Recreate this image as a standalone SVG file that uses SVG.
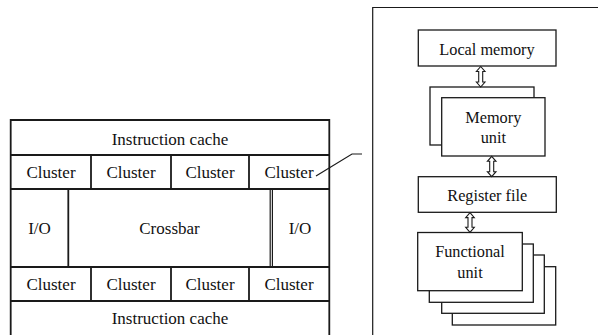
<svg xmlns="http://www.w3.org/2000/svg" width="598" height="335" viewBox="0 0 598 335">
  <style>
    .box { fill: #fff; stroke: #1a1a1a; stroke-width: 1.3; }
    .grid { fill: none; stroke: #1a1a1a; stroke-width: 1.8; }
    .line { fill: none; stroke: #1a1a1a; stroke-width: 1.2; }
    .arrow { fill: #fff; stroke: #1a1a1a; stroke-width: 1.1; stroke-linejoin: miter; }
    text { font-family: "Liberation Serif", "Times New Roman", serif; fill: #111; text-anchor: middle; }
    .big { font-size: 17px; }
    .sm { font-size: 16.3px; }
  </style>

  <!-- Chip floorplan -->
  <g id="chip">
    <path class="grid" d="M10.7,335 V120 H329.3 V335"/>
    <g id="icache-top">
      <line class="grid" x1="10.7" y1="155" x2="329.3" y2="155"/>
      <text class="big" x="170" y="144.5">Instruction cache</text>
    </g>
    <g id="clusters-top">
      <line class="grid" x1="10.7" y1="189" x2="329.3" y2="189"/>
      <line class="grid" x1="91" y1="155" x2="91" y2="189"/>
      <line class="grid" x1="171" y1="155" x2="171" y2="189"/>
      <line class="grid" x1="249" y1="155" x2="249" y2="189"/>
      <text class="big" x="51" y="178.3">Cluster</text>
      <text class="big" x="131" y="178.3">Cluster</text>
      <text class="big" x="210" y="178.3">Cluster</text>
      <text class="big" x="289" y="178.3">Cluster</text>
    </g>
    <g id="io-left">
      <line class="grid" x1="68.3" y1="189" x2="68.3" y2="267"/>
      <text class="big" x="39.5" y="234">I/O</text>
    </g>
    <g id="crossbar">
      <text class="big" x="169.5" y="234">Crossbar</text>
    </g>
    <g id="io-right">
      <line class="line" x1="270.2" y1="189" x2="270.2" y2="267"/>
      <line class="line" x1="272.4" y1="189" x2="272.4" y2="267"/>
      <text class="big" x="300" y="234">I/O</text>
    </g>
    <g id="clusters-bottom">
      <line class="grid" x1="10.7" y1="267" x2="329.3" y2="267"/>
      <line class="grid" x1="10.7" y1="301" x2="329.3" y2="301"/>
      <line class="grid" x1="91" y1="267" x2="91" y2="301"/>
      <line class="grid" x1="171" y1="267" x2="171" y2="301"/>
      <line class="grid" x1="249" y1="267" x2="249" y2="301"/>
      <text class="big" x="51" y="290">Cluster</text>
      <text class="big" x="131" y="290">Cluster</text>
      <text class="big" x="210" y="290">Cluster</text>
      <text class="big" x="289" y="290">Cluster</text>
    </g>
    <g id="icache-bottom">
      <text class="big" x="170" y="324">Instruction cache</text>
    </g>
  </g>

  <!-- Cluster detail panel -->
  <g id="cluster-panel">
    <path class="line" d="M598,7.5 H372.7 V335"/>
  </g>

  <g id="local-memory">
    <rect class="box" x="418.3" y="30" width="137.7" height="36"/>
    <text class="sm" x="487" y="54.8">Local memory</text>
  </g>

  <g id="memory-unit">
    <rect class="box" x="430" y="87" width="104" height="58"/>
    <rect class="box" x="441.7" y="97.7" width="103.3" height="58.3"/>
    <text class="sm" x="493.3" y="122.5">Memory</text>
    <text class="sm" x="493.3" y="142.7">unit</text>
  </g>

  <g id="register-file">
    <rect class="box" x="418.3" y="176.7" width="138" height="35.6"/>
    <text class="sm" x="487.3" y="201">Register file</text>
  </g>

  <g id="functional-unit">
    <rect class="box" x="452.3" y="266.7" width="103.4" height="58.3"/>
    <rect class="box" x="441.7" y="255" width="102.6" height="58.3"/>
    <rect class="box" x="429.3" y="244" width="104" height="58.3"/>
    <rect class="box" x="417.7" y="232.5" width="104.6" height="58.2"/>
    <text class="sm" x="470" y="257.3">Functional</text>
    <text class="sm" x="470" y="278.3">unit</text>
  </g>

  <!-- Connectors -->
  <g id="connectors">
    <polyline class="line" points="316,176 352,154 362,154"/>
    <path class="arrow" d="M480.7,66.5 L485,71.5 H482.7 V82 H485 L480.7,87 L476.4,82 H478.7 V71.5 H476.4 Z"/>
    <path class="arrow" d="M491.7,156.3 L496,161.3 H493.7 V171.7 H496 L491.7,176.7 L487.4,171.7 H489.7 V161.3 H487.4 Z"/>
    <path class="arrow" d="M470,212.6 L474.3,217.6 H472 V227.3 H474.3 L470,232.3 L465.7,227.3 H468 V217.6 H465.7 Z"/>
  </g>
</svg>
